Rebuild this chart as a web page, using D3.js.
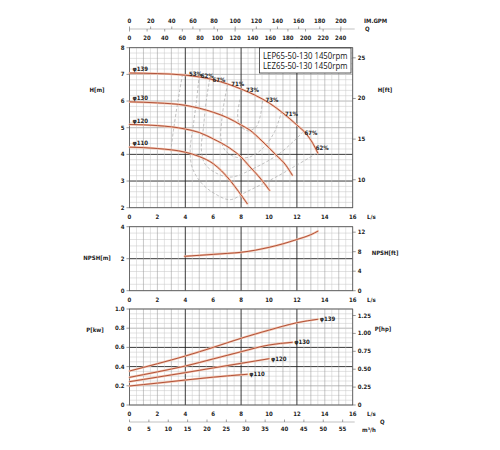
<!DOCTYPE html>
<html><head><meta charset="utf-8">
<script src="https://cdn.jsdelivr.net/npm/d3@7"></script>
<style>
body{margin:0;background:#fff;}
svg{display:block;}
.tk{font-family:"DejaVu Sans Condensed","DejaVu Sans",sans-serif;font-size:6px;font-weight:bold;fill:#222;}
.lb{font-family:"DejaVu Sans Condensed","DejaVu Sans",sans-serif;font-size:6px;font-weight:bold;fill:#222;}
</style></head>
<body>
<svg id="c" width="500" height="450"></svg>
<script>
// ---------- data ----------
const flowTicks = [0,2,4,6,8,10,12,14,16];
const impGpmTicks = [0,20,40,60,80,100,120,140,160,180,200];
const usGpmTicks = [0,20,40,60,80,100,120,140,160,180,200,220,240];
const m3hTicks = [0,5,10,15,20,25,30,35,40,45,50,55];
const headTicks = [2,3,4,5,6,7,8];
const headFtTicks = [10,15,20,25];
const npshTicks = [0,2,4];
const npshFtTicks = [0,4,8,12];
const powerTicks = [0,0.2,0.4,0.6,0.8,1.0];
const powerHpTicks = [0,0.25,0.5,0.75,1.0,1.25];
const impellers = ["φ139","φ130","φ120","φ110"];

// Head curves [Q L/s, H m]
const head139 = [[0,7.05],[2,7.03],[4,6.97],[6,6.8],[8,6.45],[9,6.22],[10,5.93],[11,5.55],[12,5.1],[12.7,4.75],[13.1,4.45],[13.5,4.05]];
const head130 = [[0,5.97],[2,5.93],[4,5.84],[6,5.58],[7,5.38],[8,5.1],[8.6,4.92],[9.5,4.5],[10.5,3.98],[11.2,3.6],[11.67,3.22]];
const head120 = [[0,5.12],[2,5.08],[4,4.95],[5,4.82],[6,4.58],[7.17,4.24],[8,3.9],[8.6,3.55],[9.3,3.15],[10.04,2.65]];
const head110 = [[0,4.27],[2,4.22],[4,4.08],[5,3.92],[6,3.65],[7.17,3.05],[7.8,2.62],[8.44,2.15]];

// Efficiency iso-lines
const effLabels = ["53%","62%","67%","71%","73%"];
const eff53 = [[3.8,7.0],[3.6,6.4],[3.35,5.6],[3.15,4.9],[3.0,4.3],[2.95,4.05]];
const eff62 = [[5.0,6.97],[4.8,6.0],[4.55,5.0],[4.35,4.17],[4.5,3.5],[5.2,2.9],[6.2,2.5],[7.2,2.3],[8.4,2.6],[10.5,3.15],[12,3.6],[13.45,4.05]];
const eff67 = [[5.75,6.83],[5.5,6.0],[5.3,5.0],[5.15,4.2],[5.4,3.65],[6.2,3.3],[7.3,3.15],[9,3.5],[10.8,4.05],[12.4,4.82]];
const eff71 = [[7.05,6.65],[6.8,6.0],[6.6,5.2],[6.55,4.6],[6.85,4.15],[7.6,3.9],[8.6,3.9],[9.6,4.25],[10.4,4.85],[10.9,5.6]];
const eff73 = [[8.1,6.43],[7.9,6.0],[7.75,5.5],[7.9,5.1],[8.5,4.88],[9.1,5.05],[9.4,5.5],[9.55,6.08]];

// NPSH [Q, m]
const npsh = [[3.95,2.15],[5,2.21],[6,2.27],[7,2.33],[8,2.4],[9,2.53],[10,2.71],[11,2.93],[12,3.2],[13,3.5],[13.5,3.72]];

// Power [Q, kW]
const pow139 = [[0,0.354],[2,0.43],[4,0.51],[6,0.6],[8,0.695],[10,0.78],[12,0.857],[13.5,0.893]];
const pow130 = [[0,0.288],[2,0.345],[4,0.406],[6,0.48],[8,0.555],[10,0.625],[11.67,0.653]];
const pow120 = [[0,0.243],[2,0.29],[4,0.337],[6,0.386],[8,0.434],[10,0.482]];
const pow110 = [[0,0.198],[2,0.228],[4,0.26],[6,0.29],[8.44,0.32]];

const IMP_PER_LS = 13.198, US_PER_LS = 15.850, M3H_PER_LS = 3.6, FT_PER_M = 3.2808, HP_PER_KW = 1.341;

// ---------- drawing ----------
const svg = d3.select("#c");
const x = d3.scaleLinear().domain([0,16]).range([129.5,352.7]);
const yH = d3.scaleLinear().domain([2,8]).range([207.7,47.7]);
const yN = d3.scaleLinear().domain([0,4]).range([290.7,226.7]);
const yP = d3.scaleLinear().domain([0,1]).range([405,309]);

function grid(y, minorStep, majorStep, darkVals){
  const g = svg.append("g");
  const [y0,y1] = y.domain();
  const nMin = Math.round((y1-y0)/minorStep);
  for(let i=0;i<=nMin;i++){
    const v = y0 + i*minorStep;
    const isMaj = Math.abs(v/majorStep - Math.round(v/majorStep))<1e-6;
    const dark = darkVals.some(d=>Math.abs(d-v)<1e-6);
    g.append("line").attr("x1",x(0)).attr("x2",x(16)).attr("y1",y(v)).attr("y2",y(v))
      .attr("stroke", dark?"#222":(isMaj?"#8a8a8a":"#c4c4c4"))
      .attr("stroke-width", dark?0.9:(isMaj?0.6:0.5));
  }
  for(let i=0;i<=32;i++){
    const v = i*0.5;
    const dark = (v===4||v===8||v===12);
    const maj = Number.isInteger(v);
    g.append("line").attr("y1",y(y0)).attr("y2",y(y1)).attr("x1",x(v)).attr("x2",x(v))
      .attr("stroke", dark?"#222":(maj?"#999":"#c8c8c8"))
      .attr("stroke-width", dark?0.9:(maj?0.55:0.5));
  }
  g.append("rect").attr("x",x(0)).attr("y",y(y1)).attr("width",x(16)-x(0)).attr("height",y(y0)-y(y1))
    .attr("fill","none").attr("stroke","#555").attr("stroke-width",0.8);
}
grid(yH,0.2,1,[3,4]);
grid(yN,0.4,2,[2]);
grid(yP,0.05,0.2,[0.4,0.6]);

// axes (tick labels)
function bottomLabels(yBase){
  flowTicks.forEach(v=>{
    svg.append("text").attr("class","tk").attr("x",x(v)).attr("y",yBase).attr("text-anchor","middle").text(v);
  });
}
bottomLabels(219);
bottomLabels(302);
bottomLabels(416);

function leftAxis(y, ticks, fmt){
  ticks.forEach(v=>{
    svg.append("line").attr("x1",x(0)-3).attr("x2",x(0)).attr("y1",y(v)).attr("y2",y(v)).attr("stroke","#555").attr("stroke-width",0.6);
    svg.append("text").attr("class","tk").attr("x",x(0)-5).attr("y",y(v)+2).attr("text-anchor","end").text(fmt(v));
  });
}
leftAxis(yH, headTicks, d=>d);
leftAxis(yN, npshTicks, d=>d);
leftAxis(yP, powerTicks, d=>d===0?"0":d.toFixed(1));

function rightAxis(y, ticks, conv, fmt){
  ticks.forEach(v=>{
    const yy = y(v/conv);
    svg.append("line").attr("x1",x(16)).attr("x2",x(16)+3).attr("y1",yy).attr("y2",yy).attr("stroke","#555").attr("stroke-width",0.6);
    svg.append("text").attr("class","tk").attr("x",x(16)+5).attr("y",yy+2).text(fmt(v));
  });
}
rightAxis(yH, headFtTicks, FT_PER_M, d=>d);
rightAxis(yN, npshFtTicks, FT_PER_M, d=>d);
rightAxis(yP, powerHpTicks, HP_PER_KW, d=>d===0?"0":d.toFixed(2));

// top GPM axis
const topY = 29;
svg.append("line").attr("x1",x(0)).attr("x2",x(16)+2).attr("y1",topY).attr("y2",topY).attr("stroke","#999").attr("stroke-width",0.6);
impGpmTicks.forEach(v=>{
  const xx = x(v/IMP_PER_LS);
  svg.append("line").attr("x1",xx).attr("x2",xx).attr("y1",topY-2.5).attr("y2",topY).attr("stroke","#666").attr("stroke-width",0.6);
  svg.append("text").attr("class","tk").attr("x",xx).attr("y",23).attr("text-anchor","middle").text(v);
});
usGpmTicks.forEach(v=>{
  const xx = x(v/US_PER_LS);
  svg.append("line").attr("x1",xx).attr("x2",xx).attr("y1",topY).attr("y2",topY+2.5).attr("stroke","#666").attr("stroke-width",0.6);
  svg.append("text").attr("class","tk").attr("x",xx).attr("y",40).attr("text-anchor","middle").text(v);
});
svg.append("text").attr("class","lb").attr("x",364).attr("y",23).text("IM.GPM");
svg.append("text").attr("class","lb").attr("x",365).attr("y",31).text("Q");

// bottom m3/h axis
const botY = 422;
svg.append("line").attr("x1",x(0)).attr("x2",x(16)+2).attr("y1",botY).attr("y2",botY).attr("stroke","#999").attr("stroke-width",0.6);
m3hTicks.forEach(v=>{
  const xx = x(v/M3H_PER_LS);
  svg.append("line").attr("x1",xx).attr("x2",xx).attr("y1",botY-2.5).attr("y2",botY).attr("stroke","#666").attr("stroke-width",0.6);
  svg.append("text").attr("class","tk").attr("x",xx).attr("y",431).attr("text-anchor","middle").text(v);
});
svg.append("text").attr("class","lb").attr("x",380).attr("y",424).text("Q");
svg.append("text").attr("class","lb").attr("x",362).attr("y",432).text("m³/h");

// axis titles
[["H[m]",97,92],["NPSH[m]",97,260],["P[kw]",95,332]].forEach(([t,xx,yy])=>{
  svg.append("text").attr("class","lb").attr("x",xx).attr("y",yy).attr("text-anchor","middle").text(t);
});
[["H[ft]",385,92],["NPSH[ft]",385,255],["P[hp]",383,331]].forEach(([t,xx,yy])=>{
  svg.append("text").attr("class","lb").attr("x",xx).attr("y",yy).attr("text-anchor","middle").text(t);
});
[219,302,416].forEach(yy=>{
  svg.append("text").attr("class","lb").attr("x",367).attr("y",yy).text("L/s");
});

// efficiency dashed lines
const lineH = d3.line().x(d=>x(d[0])).y(d=>yH(d[1])).curve(d3.curveCatmullRom.alpha(0.5));
[eff53,eff62,eff67,eff71,eff73].forEach(e=>{
  svg.append("path").attr("d",lineH(e)).attr("fill","none").attr("stroke","#a8a8a8")
    .attr("stroke-width",0.7).attr("stroke-dasharray","3,2");
});

// pump curves
function curve(path){
  svg.append("path").attr("d",path).attr("fill","none").attr("stroke","#f4c4ae").attr("stroke-width",2.2).attr("stroke-linecap","round");
  svg.append("path").attr("d",path).attr("fill","none").attr("stroke","#a9452d").attr("stroke-width",0.9).attr("stroke-linecap","round");
}
const smoothH = d3.line().x(d=>x(d[0])).y(d=>yH(d[1])).curve(d3.curveMonotoneX);
[head139,head130,head120,head110].forEach(c=>curve(smoothH(c)));

const smoothN = d3.line().x(d=>x(d[0])).y(d=>yN(d[1])).curve(d3.curveMonotoneX);
curve(smoothN(npsh));

const smoothP = d3.line().x(d=>x(d[0])).y(d=>yP(d[1])).curve(d3.curveMonotoneX);
const pows = [pow139,pow130,pow120,pow110];
pows.forEach(c=>curve(smoothP(c)));

// impeller labels on head chart
[head139,head130,head120,head110].forEach((c,i)=>{
  svg.append("text").attr("class","lb").attr("x",x(0)+3).attr("y",yH(c[0][1])-2).text(impellers[i]);
});
// impeller labels on power chart
pows.forEach((c,i)=>{
  const last = c[c.length-1];
  svg.append("text").attr("class","lb").attr("x",x(last[0])+2).attr("y",yP(last[1])+2).text(impellers[i]);
});

// efficiency labels
const effLabelPos = [
  ["53%",4.27,6.93],["62%",5.1,6.85],["67%",5.95,6.73],["71%",7.3,6.55],["73%",8.35,6.35],
  ["73%",9.75,5.95],["71%",11.15,5.43],["67%",12.55,4.73],["62%",13.35,4.15]
];
effLabelPos.forEach(([t,q,h])=>{
  svg.append("text").attr("class","lb").attr("x",x(q)).attr("y",yH(h)).text(t);
});

// title box
svg.append("rect").attr("x",259.5).attr("y",48).attr("width",91.5).attr("height",25)
  .attr("fill","#fff").attr("stroke","#333").attr("stroke-width",0.8);
["LEP65-50-130 1450rpm","LEZ65-50-130 1450rpm"].forEach((t,i)=>{
  svg.append("text").attr("x",263).attr("y",58.5+i*10.5)
    .attr("font-family","'Open Sans',sans-serif").attr("font-size",8.2).attr("fill","#111")
    .attr("textLength",84.5).attr("lengthAdjust","spacingAndGlyphs").text(t);
});
</script>
</body></html>
